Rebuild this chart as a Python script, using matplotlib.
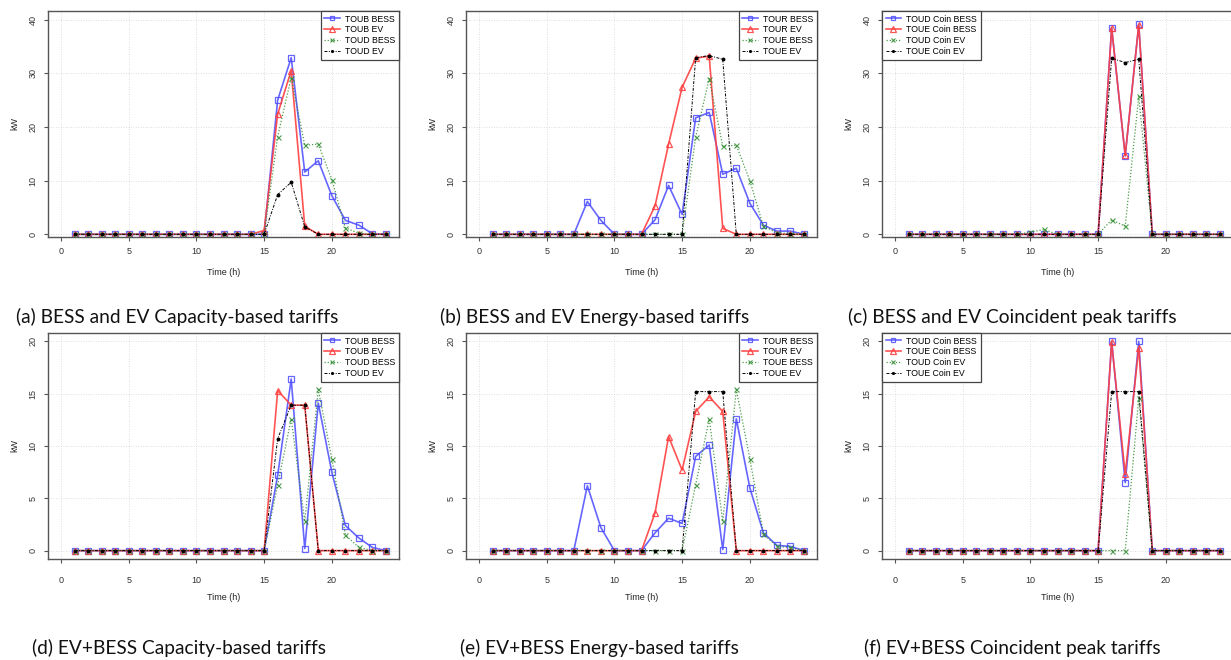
import numpy as np
import matplotlib
matplotlib.use("Agg")
import matplotlib.pyplot as plt

plt.rcParams['font.family'] = ['Liberation Sans', 'DejaVu Sans']

hours = np.arange(1, 25)

# (a) BESS and EV, capacity-based tariffs
a_toub_bess = [0]*15 + [25.0, 32.9, 11.6, 13.7, 7.2, 2.6, 1.7, 0.1, 0]
a_toub_ev   = [0]*14 + [0.7, 22.4, 30.5, 1.5, 0, 0, 0, 0, 0, 0]
a_toud_bess = [0]*15 + [18.2, 29.2, 16.6, 16.8, 10.2, 1.2, 0.2, 0, 0]
a_toud_ev   = [0]*15 + [7.4, 9.7, 1.4, 0, 0, 0, 0, 0, 0]

# (b) BESS and EV, energy-based tariffs
b_tour_bess = [0]*7 + [6.1, 2.6, 0, 0, 0, 2.7, 9.1, 3.7, 21.7, 22.7, 11.2, 12.3, 5.8, 1.7, 0.6, 0.6, 0]
b_tour_ev   = [0]*12 + [5.3, 16.8, 27.4, 32.8, 33.2, 1.1, 0, 0, 0, 0, 0, 0]
b_toue_bess = [0]*15 + [18.1, 29.0, 16.4, 16.6, 10.0, 1.5, 0.3, 0.1, 0]
b_toue_ev   = [0]*15 + [32.9, 33.3, 32.6, 0, 0, 0, 0, 0, 0]

# (c) BESS and EV, coincident peak tariffs
c_toud_coin_bess = [0]*15 + [38.5, 14.6, 39.1, 0, 0, 0, 0, 0, 0]
c_toue_coin_bess = [0]*15 + [38.4, 14.7, 39.0, 0, 0, 0, 0, 0, 0]
c_toud_coin_ev   = [0]*9 + [0.4, 0.9, 0, 0, 0, 0, 2.7, 1.5, 25.7, 0, 0, 0, 0, 0, 0]
c_toue_coin_ev   = [0]*15 + [32.8, 32.0, 32.6, 0, 0, 0, 0, 0, 0]

# (d) EV+BESS, capacity-based tariffs
d_toub_bess = [0]*15 + [7.2, 16.4, 0.2, 14.1, 7.5, 2.4, 1.2, 0.3, 0]
d_toub_ev   = [0]*15 + [15.3, 13.9, 13.9, 0, 0, 0, 0, 0, 0]
d_toud_bess = [0]*15 + [6.3, 12.6, 2.8, 15.4, 8.8, 1.5, 0.3, 0, 0]
d_toud_ev   = [0]*15 + [10.7, 13.9, 13.9, 0, 0, 0, 0, 0, 0]

# (e) EV+BESS, energy-based tariffs
e_tour_bess = [0]*7 + [6.2, 2.2, 0, 0, 0, 1.7, 3.1, 2.6, 9.0, 10.1, 0.1, 12.6, 6.0, 1.7, 0.5, 0.4, 0]
e_tour_ev   = [0]*12 + [3.6, 10.9, 7.7, 13.3, 14.7, 13.3, 0, 0, 0, 0, 0, 0]
e_toue_bess = [0]*15 + [6.3, 12.6, 2.8, 15.4, 8.8, 1.6, 0.4, 0.3, 0]
e_toue_ev   = [0]*15 + [15.2, 15.2, 15.2, 0, 0, 0, 0, 0, 0]

# (f) EV+BESS, coincident peak tariffs
f_toud_coin_bess = [0]*15 + [20.0, 6.5, 20.0, 0, 0, 0, 0, 0, 0]
f_toue_coin_bess = [0]*15 + [19.9, 7.3, 19.4, 0, 0, 0, 0, 0, 0]
f_toud_coin_ev   = [0]*17 + [14.6, 0, 0, 0, 0, 0, 0]
f_toue_coin_ev   = [0]*15 + [15.2, 15.2, 15.2, 0, 0, 0, 0, 0, 0]

panels = [
    (a_toub_bess, a_toub_ev, a_toud_bess, a_toud_ev,
     ['TOUB BESS', 'TOUB EV', 'TOUD BESS', 'TOUD EV'], 'upper right'),
    (b_tour_bess, b_tour_ev, b_toue_bess, b_toue_ev,
     ['TOUR BESS', 'TOUR EV', 'TOUE BESS', 'TOUE EV'], 'upper right'),
    (c_toud_coin_bess, c_toue_coin_bess, c_toud_coin_ev, c_toue_coin_ev,
     ['TOUD Coin BESS', 'TOUE Coin BESS', 'TOUD Coin EV', 'TOUE Coin EV'], 'upper left'),
    (d_toub_bess, d_toub_ev, d_toud_bess, d_toud_ev,
     ['TOUB BESS', 'TOUB EV', 'TOUD BESS', 'TOUD EV'], 'upper right'),
    (e_tour_bess, e_tour_ev, e_toue_bess, e_toue_ev,
     ['TOUR BESS', 'TOUR EV', 'TOUE BESS', 'TOUE EV'], 'upper right'),
    (f_toud_coin_bess, f_toue_coin_bess, f_toud_coin_ev, f_toue_coin_ev,
     ['TOUD Coin BESS', 'TOUE Coin BESS', 'TOUD Coin EV', 'TOUE Coin EV'], 'upper left'),
]

captions = [
    '(a) BESS and EV Capacity-based tariffs',
    '(b) BESS and EV Energy-based tariffs',
    '(c) BESS and EV Coincident peak tariffs',
    '(d) EV+BESS Capacity-based tariffs',
    '(e) EV+BESS Energy-based tariffs',
    '(f) EV+BESS Coincident peak tariffs',
]

W, H = 1231, 660
fig = plt.figure(figsize=(W/100, H/100), dpi=100)

col_left = [48, 466, 882]
ax_w = 351
row_top = [11, 333]
ax_h = 226
caption_x = [16, 440, 848, 32, 460, 864]
caption_y = [317, 317, 317, 648, 648, 648]
xtick_pad = [4.5, 9]

box_col = '#555555'

for i, (s1, s2, s3, s4, labels, loc) in enumerate(panels):
    r, c = divmod(i, 3)
    left = col_left[c] / W
    bottom = 1 - (row_top[r] + ax_h) / H
    ax = fig.add_axes([left, bottom, ax_w / W, ax_h / H])

    ax.plot(hours, s1, color='#4b4bff', lw=1.2, ls='-', marker='s',
            mfc='none', mec='#4b4bff', ms=4.3, mew=0.9, alpha=0.85, label=labels[0])
    ax.plot(hours, s2, color='#ff4040', lw=1.2, ls='-', marker='^',
            mfc='none', mec='#ff4040', ms=4.8, mew=0.9, alpha=0.9, label=labels[1])
    ax.plot(hours, s3, color='#2e8b2e', lw=0.9, ls=(0, (1, 1.5)), marker='x',
            ms=3.6, mew=0.8, alpha=0.85, label=labels[2])
    ax.plot(hours, s4, color='black', lw=0.7, ls=(0, (3, 1.5, 1, 1.5)), marker='o',
            ms=2.8, mew=0, label=labels[3])

    ax.set_xlim(-0.96, 24.96)
    if r == 0:
        ax.set_ylim(-0.5, 41.6)
        ax.set_yticks([0, 10, 20, 30, 40])
    else:
        ax.set_ylim(-0.8, 20.8)
        ax.set_yticks([0, 5, 10, 15, 20])
    ax.set_xticks([0, 5, 10, 15, 20])

    ax.grid(True, color='#d3d3d3', ls=(0, (1, 2)), lw=0.6)
    ax.set_axisbelow(True)
    for sp in ax.spines.values():
        sp.set_color(box_col)
        sp.set_linewidth(1.0)

    ax.tick_params(axis='both', direction='out', length=3, width=0.8,
                   color=box_col, labelsize=6.5, labelcolor='#333333')
    ax.tick_params(axis='x', pad=xtick_pad[r])
    ax.tick_params(axis='y', pad=4.5)
    for t in ax.get_yticklabels():
        t.set_rotation(90)
        t.set_va('center')

    ax.text(0.5, -0.155 if r == 0 else -0.17, 'Time (h)', transform=ax.transAxes,
            ha='center', va='center', fontsize=6.5, color='#222222')
    ax.text(-0.095, 0.5, 'kW', transform=ax.transAxes, rotation=90,
            ha='center', va='center', fontsize=6.5, color='#222222')

    leg = ax.legend(loc=loc, fontsize=6.3, frameon=True, fancybox=False,
                    borderaxespad=0, handlelength=1.8, handletextpad=0.6,
                    labelspacing=0.22, borderpad=0.4, markerscale=0.8)
    leg.get_frame().set_edgecolor('#444444')
    leg.get_frame().set_linewidth(0.9)
    leg.get_frame().set_alpha(1)

for i, cap in enumerate(captions):
    fig.text(caption_x[i] / W, 1 - caption_y[i] / H, cap, ha='left', va='center',
             fontsize=13.8, family=['Lato', 'DejaVu Sans'], color='#111111')

fig.savefig('out.png', dpi=100)
